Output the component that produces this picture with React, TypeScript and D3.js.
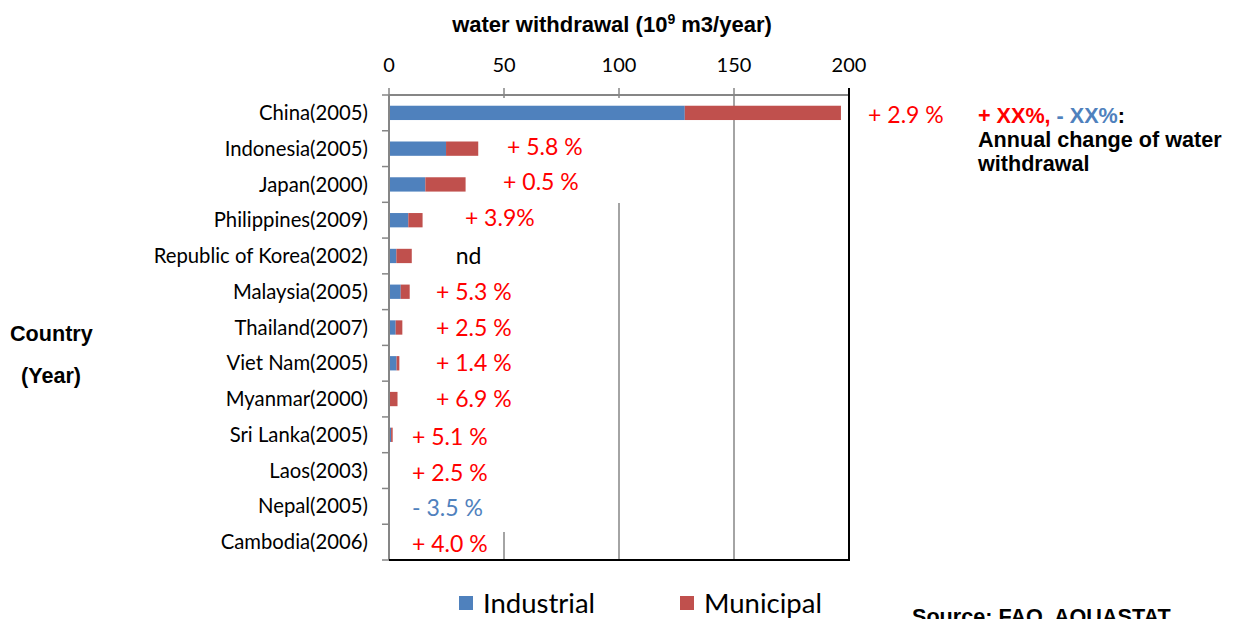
import { useMemo } from 'react';
import * as d3 from 'd3';

const countries = [
  'China(2005)', 'Indonesia(2005)', 'Japan(2000)', 'Philippines(2009)',
  'Republic of Korea(2002)', 'Malaysia(2005)', 'Thailand(2007)', 'Viet Nam(2005)',
  'Myanmar(2000)', 'Sri Lanka(2005)', 'Laos(2003)', 'Nepal(2005)', 'Cambodia(2006)',
];
const industrial = [128.6, 24.8, 15.8, 8.4, 3.2, 5.1, 2.9, 3.3, 0.4, 0.9, 0.2, 0.05, 0.05];
const municipal = [67.9, 14.0, 17.5, 6.2, 6.7, 3.9, 2.9, 1.2, 3.3, 0.7, 0.1, 0.15, 0.1];
const changes = [
  '+ 2.9 %', '+ 5.8 %', '+ 0.5 %', '+ 3.9%', 'nd', '+ 5.3 %', '+ 2.5 %',
  '+ 1.4 %', '+ 6.9 %', '+ 5.1 %', '+ 2.5 %', '- 3.5 %', '+ 4.0 %',
];
const ticks = [0, 50, 100, 150, 200];

// where each change label starts, in axis units
const NOTE_AT = [208.3, 51.3, 49.6, 33, 29, 20.4, 20.4, 20.4, 20.4, 10, 10, 10, 10];

const W = 1237;
const H = 619;
const BLUE = '#4F81BD';
const RED = '#C0504D';
const GRID = '#868686';
const CAL = 'Lato, "Open Sans", sans-serif';
const ARIAL = '"Liberation Sans", Arial, sans-serif';

export default function App() {
  const x = useMemo(() => d3.scaleLinear().domain([0, 200]).range([389, 849]), []);
  const y = useMemo(
    () => d3.scaleBand<string>().domain(countries).range([95, 560]).paddingInner(0.6).paddingOuter(0.3),
    [],
  );

  const series = useMemo(() => {
    const rows = countries.map((c, i) => ({ c, industrial: industrial[i], municipal: municipal[i] }));
    return d3.stack<any>().keys(['industrial', 'municipal'])(rows);
  }, []);

  const step = y.step();
  const top = 95;
  const bottom = 560;
  const mid = (c: string) => (y(c) ?? 0) + y.bandwidth() / 2;
  const noteShift = (i: number) => (i === 0 ? 2 : i < 4 ? -2 : i < 9 ? 0 : 2);

  return (
    <svg width={W} height={H} style={{ position: 'absolute', left: 0, top: 0, display: 'block' }}>
      <rect width={W} height={H} fill="white" />

      {/* title */}
      <text x={612} y={32} textAnchor="middle" fontFamily={ARIAL} fontWeight="bold" fontSize={22}>
        water withdrawal (10
        <tspan dy={-8} fontSize={14}>9</tspan>
        <tspan dy={8}> m3/year)</tspan>
      </text>

      {/* tick labels */}
      {ticks.map((t) => (
        <text key={t} x={x(t)} y={72} textAnchor="middle" fontFamily={CAL} fontSize={20}>{t}</text>
      ))}

      {/* gridlines */}
      {ticks.slice(1, 4).map((t) => (
        <line key={t} x1={x(t)} x2={x(t)} y1={top} y2={bottom} stroke={GRID} strokeWidth={1.5} />
      ))}

      {/* text box backgrounds hiding parts of the grid */}
      <rect x={497} y={98} width={129} height={105} fill="white" />
      <rect x={400} y={203} width={115} height={329} fill="white" />

      {/* top axis */}
      <line x1={x(0)} x2={x(200)} y1={top} y2={top} stroke={GRID} strokeWidth={2} />
      {ticks.map((t) => (
        <line key={t} x1={x(t)} x2={x(t)} y1={top - 7} y2={top} stroke={GRID} strokeWidth={1.5} />
      ))}

      {/* bars */}
      {series.map((s, si) => (
        <g key={s.key} fill={si === 0 ? BLUE : RED}>
          {s.map((d, i) => (
            <rect
              key={i}
              x={x(d[0])}
              y={y(countries[i])}
              width={Math.max(0, x(d[1]) - x(d[0]))}
              height={y.bandwidth()}
            />
          ))}
        </g>
      ))}

      {/* left axis */}
      <line x1={x(0)} x2={x(0)} y1={top} y2={bottom} stroke={GRID} strokeWidth={2} />
      {d3.range(countries.length + 1).map((i) => (
        <line key={i} x1={x(0) - 7} x2={x(0)} y1={top + i * step} y2={top + i * step} stroke={GRID} strokeWidth={1.5} />
      ))}

      {/* plot border right / bottom */}
      <line x1={x(200)} x2={x(200)} y1={top - 7} y2={bottom + 1} stroke="black" strokeWidth={2} />
      <line x1={x(0)} x2={x(200) + 1} y1={bottom} y2={bottom} stroke="black" strokeWidth={2} />

      {/* category labels */}
      {countries.map((c) => (
        <text key={c} x={368} y={mid(c)} dy="0.35em" textAnchor="end" fontFamily={CAL} fontSize={20.3}>
          {c}
        </text>
      ))}

      {/* change labels */}
      {changes.map((t, i) => (
        <text
          key={i}
          x={x(NOTE_AT[i])}
          y={mid(countries[i]) + noteShift(i)}
          dy="0.35em"
          fontFamily={CAL}
          fontSize={23}
          fill={t === 'nd' ? 'black' : t.startsWith('-') ? BLUE : '#FF0000'}
        >
          {t}
        </text>
      ))}

      {/* note */}
      <text x={978} y={123} fontFamily={ARIAL} fontWeight="bold" fontSize={21.6}>
        <tspan fill="#FF0000">+ XX%,</tspan>
        <tspan fill={BLUE}> - XX%</tspan>
        <tspan fill="black">:</tspan>
      </text>
      <text x={978} y={147} fontFamily={ARIAL} fontWeight="bold" fontSize={21.6}>Annual change of water</text>
      <text x={978} y={171} fontFamily={ARIAL} fontWeight="bold" fontSize={21.6}>withdrawal</text>

      {/* y title */}
      <text x={10} y={341} fontFamily={ARIAL} fontWeight="bold" fontSize={21.6}>Country</text>
      <text x={21} y={383} fontFamily={ARIAL} fontWeight="bold" fontSize={21.6}>(Year)</text>

      {/* legend */}
      <rect x={459} y={596} width={14} height={14} fill={BLUE} />
      <text x={483} y={613} fontFamily={CAL} fontSize={27.5}>Industrial</text>
      <rect x={680} y={596} width={14} height={14} fill={RED} />
      <text x={704} y={613} fontFamily={CAL} fontSize={27.5}>Municipal</text>

      <text x={912} y={624} fontFamily={ARIAL} fontWeight="bold" fontSize={21.6}>Source: FAO, AQUASTAT</text>
    </svg>
  );
}
